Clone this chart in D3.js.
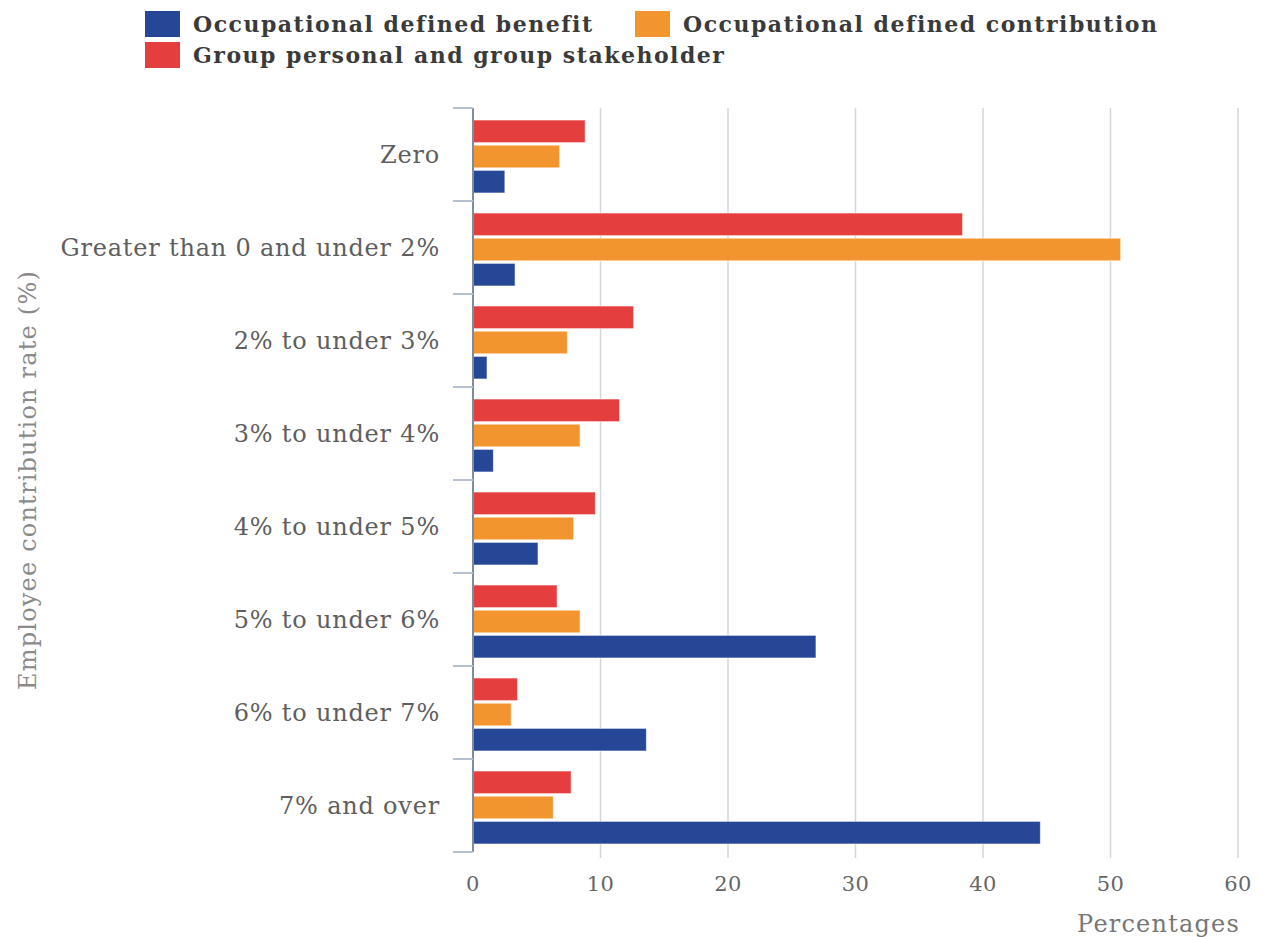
<!DOCTYPE html>
<html>
<head>
<meta charset="utf-8">
<script src="https://cdn.jsdelivr.net/npm/d3@7"></script>
<style>
  html, body { margin: 0; padding: 0; background: #fff; }
  svg { display: block; }
</style>
</head>
<body>
<svg id="chart" width="1266" height="937"></svg>
<script>
// Employee contribution rate bands
const categories = [
  "Zero",
  "Greater than 0 and under 2%",
  "2% to under 3%",
  "3% to under 4%",
  "4% to under 5%",
  "5% to under 6%",
  "6% to under 7%",
  "7% and over"
];

// Series names (legend order)
const seriesNames = [
  "Occupational defined benefit",
  "Occupational defined contribution",
  "Group personal and group stakeholder"
];
const seriesColors = ["#264796", "#f3952f", "#e53e3e"];

// Percentages of members, per category
const definedBenefit      = [2.5, 3.3, 1.1, 1.6, 5.1, 26.9, 13.6, 44.5];
const definedContribution = [6.8, 50.8, 7.4, 8.4, 7.9, 8.4, 3.0, 6.3];
const groupPersonal       = [8.8, 38.4, 12.6, 11.5, 9.6, 6.6, 3.5, 7.7];

const xTicks = [0, 10, 20, 30, 40, 50, 60];

const seriesValues = [definedBenefit, definedContribution, groupPersonal];

const svg = d3.select("#chart");
const font = "'DejaVu Serif', serif";

const margin = { left: 473, right: 28, top: 108, bottom: 85 };
const W = 1266, H = 937;

const x = d3.scaleLinear().domain([0, 60]).range([margin.left, W - margin.right]);
const y = d3.scaleBand().domain(categories).range([margin.top, H - margin.bottom]).padding(0);

// bars in each band: red on top, orange, blue at bottom
const subOrder = [2, 1, 0];
const ySub = d3.scaleBand().domain(subOrder).range([12, y.bandwidth() - 8]).paddingInner(0.1);

// grid lines
svg.append("g")
  .selectAll("line")
  .data(xTicks.slice(1))
  .join("line")
  .attr("x1", d => x(d)).attr("x2", d => x(d))
  .attr("y1", margin.top).attr("y2", H - margin.bottom + 6)
  .attr("stroke", "#d6d6d6").attr("stroke-width", 1.5);

// x tick labels
svg.append("g")
  .selectAll("text")
  .data(xTicks)
  .join("text")
  .attr("x", d => x(d))
  .attr("y", 891)
  .attr("text-anchor", "middle")
  .attr("font-family", font)
  .attr("font-size", 21)
  .attr("letter-spacing", 0.5)
  .attr("fill", "#666")
  .text(d => d);

svg.append("text")
  .attr("x", x(60) + 2)
  .attr("y", 932)
  .attr("text-anchor", "end")
  .attr("font-family", font)
  .attr("font-size", 24)
  .attr("letter-spacing", 1.2)
  .attr("fill", "#777")
  .text("Percentages");

// bars
const groups = svg.append("g")
  .selectAll("g")
  .data(categories)
  .join("g")
  .attr("transform", d => `translate(0,${y(d)})`);

groups.selectAll("rect")
  .data((c, i) => subOrder.map(s => ({ s, v: seriesValues[s][i] })))
  .join("rect")
  .attr("x", x(0))
  .attr("y", d => ySub(d.s))
  .attr("width", d => x(d.v) - x(0))
  .attr("height", ySub.bandwidth())
  .attr("fill", d => seriesColors[d.s])
  .attr("stroke", "rgba(255,255,255,0.6)")
  .attr("stroke-width", 1);

// y axis line and boundary ticks
const yAxisG = svg.append("g");
yAxisG.append("line")
  .attr("x1", x(0)).attr("x2", x(0))
  .attr("y1", margin.top).attr("y2", H - margin.bottom)
  .attr("stroke", "#7f8c9e").attr("stroke-width", 2);
const bounds = categories.map(c => y(c)).concat([y(categories[categories.length - 1]) + y.bandwidth()]);
yAxisG.selectAll("line.tick")
  .data(bounds)
  .join("line")
  .attr("class", "tick")
  .attr("x1", x(0) - 20).attr("x2", x(0))
  .attr("y1", d => d).attr("y2", d => d)
  .attr("stroke", "#b6c2d2").attr("stroke-width", 2);

// category labels
svg.append("g")
  .selectAll("text")
  .data(categories)
  .join("text")
  .attr("x", 440)
  .attr("y", d => y(d) + y.bandwidth() / 2 + 8)
  .attr("text-anchor", "end")
  .attr("font-family", font)
  .attr("font-size", 24)
  .attr("letter-spacing", 0.8)
  .attr("font-weight", 300)
  .attr("fill", "#5e5e5e")
  .text(d => d);

// y axis title
svg.append("text")
  .attr("transform", `translate(36,${480}) rotate(-90)`)
  .attr("text-anchor", "middle")
  .attr("font-family", font)
  .attr("font-size", 24)
  .attr("letter-spacing", 1.2)
  .attr("fill", "#8a8a8a")
  .text("Employee contribution rate (%)");

// legend
const legendPos = [[145, 11], [635, 11], [145, 42]];
const legend = svg.append("g")
  .selectAll("g")
  .data(seriesNames)
  .join("g")
  .attr("transform", (d, i) => `translate(${legendPos[i][0]},${legendPos[i][1]})`);
legend.append("rect")
  .attr("width", 35).attr("height", 26)
  .attr("fill", (d, i) => seriesColors[i]);
legend.append("text")
  .attr("x", 48).attr("y", 21)
  .attr("font-family", font)
  .attr("font-weight", "bold")
  .attr("font-size", 22)
  .attr("letter-spacing", 1.5)
  .attr("fill", "#3a3a3a")
  .text(d => d);
</script>
</body>
</html>
